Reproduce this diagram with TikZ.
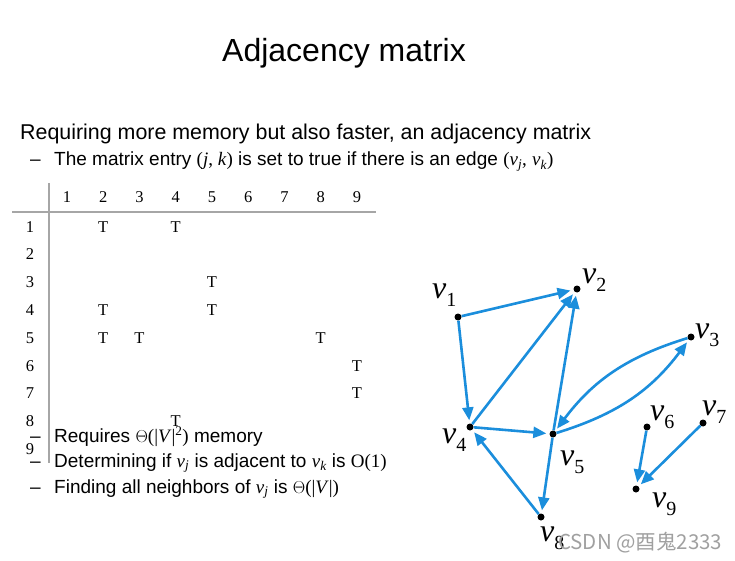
\documentclass[tikz,border=0pt]{standalone}
\usepackage{fontspec}
\setmainfont{Liberation Sans}
\newfontfamily\tms{Liberation Serif}
\newfontfamily\cjk{Noto Sans CJK SC}
\usetikzlibrary{arrows.meta,positioning}
\definecolor{edgeblue}{HTML}{1B8EDC}
\definecolor{rulegray}{HTML}{A6A6A6}
\definecolor{wmgray}{HTML}{A0A0A0}

\newcommand{\vname}[1]{v\raisebox{-8pt}{\fontsize{20}{20}\selectfont\upshape #1}}
\newcommand{\vsm}[1]{{\tms\itshape v\textsubscript{#1}}}

\tikzset{
  dot/.style={circle, fill=black, inner sep=0pt, minimum size=7pt},
  vlab/.style={anchor=base west, inner sep=0pt, font=\tms\fontsize{32}{32}\selectfont\itshape},
  arc/.style={draw=edgeblue, line width=2.6pt, -{Triangle[length=13pt,width=11pt]},
              shorten >=3pt},
  cell/.style={anchor=base, inner sep=0pt, font=\tms\fontsize{16.5}{16.5}\selectfont},
  body/.style={anchor=base west, inner sep=0pt, font=\fontsize{19}{19}\selectfont},
}

\begin{document}
\begin{tikzpicture}[x=1pt, y=-1pt]
  \useasboundingbox (0,0) rectangle (735,561);

  \node[anchor=base, inner sep=0pt, font=\fontsize{32}{32}\selectfont] (title) at (344,62) {Adjacency matrix};
  \node[anchor=base west, inner sep=0pt, font=\fontsize{21.4}{21.4}\selectfont] (intro) at (20,140)
    {Requiring more memory but also faster, an adjacency matrix};
  \node[body] (dash0) at (30,166) {--};
  \node[body] (entry) at (54,166)
    {The matrix entry {\tms(\textit{j}, \textit{k})} is set to true if there is an edge {\tms(}\vsm{j}{\tms,} \vsm{k}{\tms)}};

  % matrix
  \draw[rulegray, line width=1.6pt] (12,212) coordinate (hl) -- (376,212) coordinate (hr);
  \draw[rulegray, line width=1.6pt] (49,183) coordinate (vt) -- (49,463) coordinate (vb);
  \foreach \c in {1,...,9}
    \node[cell] (col\c) at ({67+36.25*(\c-1)},203) {\c};
  \foreach \r in {1,...,9}
    \node[cell] (row\r) at (30,{232+27.8*(\r-1)}) {\r};
  \foreach \r/\c in {1/2,1/4,3/5,4/2,4/5,5/2,5/3,5/8,6/9,7/9,8/4}
    \node[cell] (t\r\c) at ({67+36.25*(\c-1)},{232+27.8*(\r-1)}) {T};

  \node[body] (dash1) at (30,442) {--};
  \node[body] (mem) at (54,442) {Requires {\tms$\Theta$(|\textit{V}|\textsuperscript{2})} memory};
  \node[body] (dash2) at (30,467) {--};
  \node[body] (adj) at (54,467) {Determining if \vsm{j} is adjacent to \vsm{k} is {\tms O(1)}};
  \node[body] (dash3) at (30,493) {--};
  \node[body] (nbr) at (54,493) {Finding all neighbors of \vsm{j} is {\tms$\Theta$(|\textit{V}|)}};

  % graph
  \node[dot] (v1) at (458,317) {};
  \node[dot] (v2) at (577,289) {};
  \node[dot] (v3) at (691,337) {};
  \node[dot] (v4) at (470,427) {};
  \node[dot] (v5) at (553,434) {};
  \node[dot] (v6) at (647,427) {};
  \node[dot] (v7) at (703,423) {};
  \node[dot] (v8) at (541,517) {};
  \node[dot] (v9) at (636,489) {};

  \draw[arc] (v1) -- (v2);
  \draw[arc] (v1) -- (v4);
  \draw[arc] (v4) -- (v2);
  \draw[arc] (v4) -- (v5);
  \draw[arc] (v5) -- (v2);
  \draw[arc] (v5) to[bend right=18] (v3);
  \draw[arc] (v3) to[bend right=18] (v5);
  \draw[arc] (v5) -- (v8);
  \draw[arc] (v8) -- (v4);
  \draw[arc] (v6) -- (v9);
  \draw[arc] (v7) -- (v9);

  \node[vlab] (l1) at (432,298) {\vname{1}};
  \node[vlab] (l2) at (582,283) {\vname{2}};
  \node[vlab] (l3) at (695,338) {\vname{3}};
  \node[vlab] (l4) at (442,443) {\vname{4}};
  \node[vlab] (l5) at (560,465) {\vname{5}};
  \node[vlab] (l6) at (650,420) {\vname{6}};
  \node[vlab] (l7) at (702,415) {\vname{7}};
  \node[vlab] (l8) at (540,541) {\vname{8}};
  \node[vlab] (l9) at (652,507) {\vname{9}};

  \node[anchor=base west, inner sep=0pt, text=wmgray, font=\cjk\fontsize{20.5}{20.5}\selectfont] (wm) at (558,549) {CSDN @酉鬼2333};
\end{tikzpicture}
\end{document}
